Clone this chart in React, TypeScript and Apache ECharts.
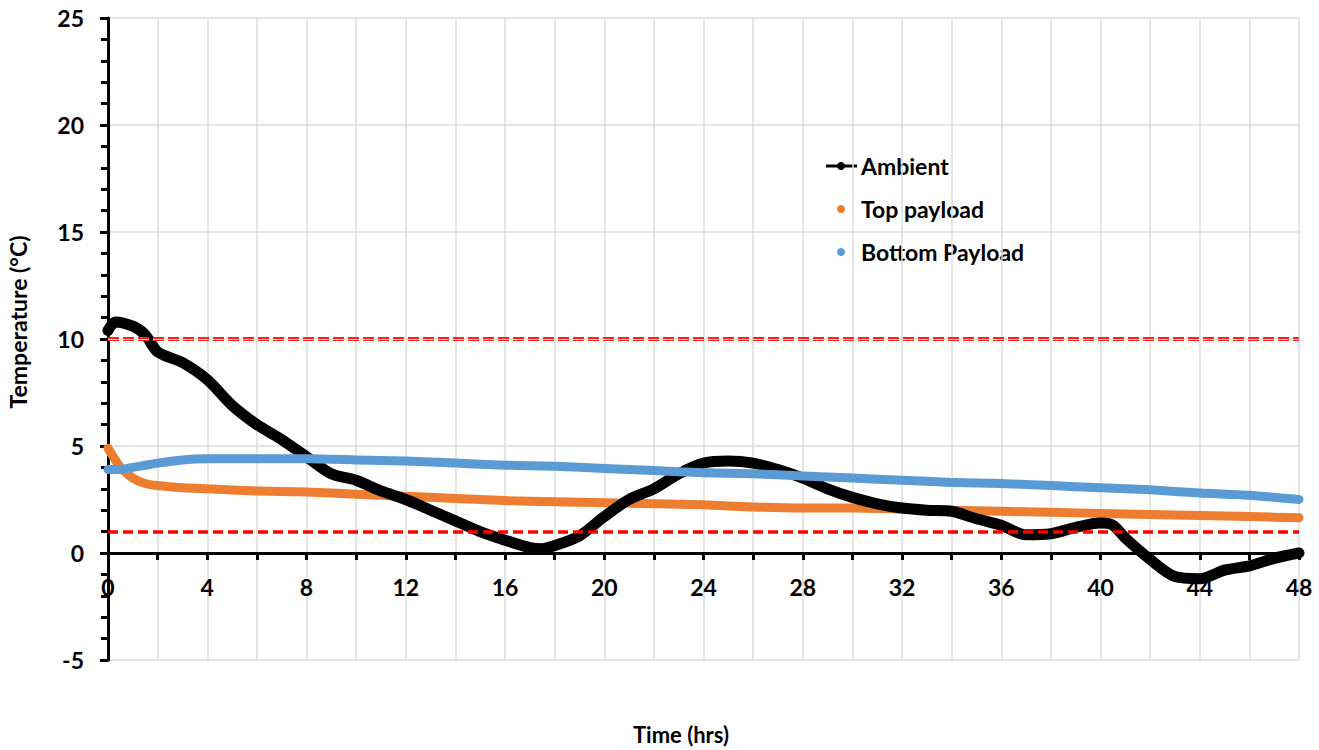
import React, { useEffect, useRef } from "react";
import * as echarts from "echarts";

const hours = [0, 0.3, 1, 1.5, 2, 3, 4, 5, 6, 7, 8, 9, 10, 11, 12, 13, 14, 15, 16, 17, 17.5, 18, 19, 20, 21, 22, 23, 24, 25, 26, 27, 28, 29, 30, 31, 32, 33, 34, 35, 36, 37, 38, 39, 40, 40.5, 41, 42, 43, 44, 45, 46, 47, 48];
const ambient = [10.4, 10.8, 10.6, 10.2, 9.4, 8.9, 8.1, 6.9, 6.0, 5.3, 4.5, 3.7, 3.4, 2.9, 2.5, 2.0, 1.5, 1.0, 0.6, 0.25, 0.2, 0.35, 0.8, 1.7, 2.5, 3.0, 3.7, 4.2, 4.3, 4.2, 3.9, 3.5, 3.0, 2.6, 2.3, 2.1, 2.0, 1.95, 1.6, 1.3, 0.85, 0.9, 1.2, 1.4, 1.3, 0.7, -0.3, -1.1, -1.2, -0.8, -0.6, -0.25, 0.0];

const payloadHours = [0, 0.5, 1, 1.5, 2, 3, 4, 6, 8, 10, 12, 14, 16, 18, 20, 22, 24, 26, 28, 30, 32, 34, 36, 38, 40, 42, 44, 46, 48];
const topPayload = [4.9, 4.0, 3.5, 3.25, 3.15, 3.05, 3.0, 2.9, 2.85, 2.75, 2.65, 2.55, 2.45, 2.4, 2.35, 2.3, 2.25, 2.15, 2.1, 2.1, 2.05, 2.0, 1.95, 1.9, 1.85, 1.8, 1.75, 1.7, 1.65];
const bottomPayload = [3.9, 3.9, 4.0, 4.1, 4.2, 4.35, 4.4, 4.4, 4.4, 4.35, 4.3, 4.2, 4.1, 4.05, 3.95, 3.85, 3.75, 3.7, 3.6, 3.5, 3.4, 3.3, 3.25, 3.15, 3.05, 2.95, 2.8, 2.7, 2.5];

const limits = [10, 1];
const seriesNames = ["Ambient", "Top payload", "Bottom Payload"];
const xTicks = { min: 0, max: 48, interval: 4 };
const yTicks = { min: -5, max: 25, interval: 5 };

const FONT = "Lato, 'Open Sans', sans-serif";
const FS = 23;
const GRID = { left: 108, right: 20, top: 18, bottom: 90 };
// plot height 642 for 30 units; y=0 sits 5 units above the bottom edge
const ZERO_OFFSET = -((750 - GRID.top - GRID.bottom) * (0 - yTicks.min)) / (yTicks.max - yTicks.min);

export default function App() {
  const ref = useRef<HTMLDivElement>(null);
  useEffect(() => {
    const chart = echarts.init(ref.current!, undefined, { renderer: "svg" });
    const pair = (xs: number[], ys: number[]) => xs.map((x, i) => [x, ys[i]]);
    const legendText = (i: number, y: number) => ({
      type: "text",
      x: 861,
      y,
      style: { text: seriesNames[i], fontFamily: FONT, fontWeight: "bold", fontSize: FS, fill: "#000", verticalAlign: "middle" },
    });
    chart.setOption({
      animation: false,
      grid: GRID,
      xAxis: {
        type: "value",
        position: "bottom",
        offset: ZERO_OFFSET,
        min: xTicks.min,
        max: xTicks.max,
        interval: xTicks.interval,
        axisLine: { onZero: false, lineStyle: { color: "#000", width: 3 } },
        axisTick: { show: true, length: 7, lineStyle: { color: "#000", width: 3 } },
        minorTick: { show: true, splitNumber: 2, length: 7, lineStyle: { color: "#000", width: 3 } },
        splitLine: { show: true, lineStyle: { color: "#dcdcdc", width: 1.5 } },
        minorSplitLine: { show: true, lineStyle: { color: "#dcdcdc", width: 1.5 } },
        axisLabel: { fontFamily: FONT, fontWeight: "bold", fontSize: FS, color: "#000", margin: 22 },
      },
      yAxis: {
        type: "value",
        min: yTicks.min,
        max: yTicks.max,
        interval: yTicks.interval,
        axisLine: { show: true, onZero: false, lineStyle: { color: "#000", width: 3 } },
        axisTick: { show: true, length: 8, lineStyle: { color: "#000", width: 3 } },
        minorTick: { show: true, splitNumber: 5, length: 7, lineStyle: { color: "#000", width: 3 } },
        splitLine: { show: true, lineStyle: { color: "#dcdcdc", width: 1.5 } },
        axisLabel: { fontFamily: FONT, fontWeight: "bold", fontSize: FS, color: "#000", margin: 24 },
      },
      series: [
        {
          name: seriesNames[1],
          type: "line",
          data: pair(payloadHours, topPayload),
          showSymbol: false,
          smooth: 0.2,
          lineStyle: { color: "#ED7D31", width: 9, cap: "round", join: "round" },
          z: 2,
        },
        {
          name: seriesNames[0],
          type: "line",
          data: pair(hours, ambient),
          showSymbol: false,
          smooth: 0.3,
          lineStyle: { color: "#000", width: 11, cap: "round", join: "round" },
          z: 3,
        },
        {
          name: seriesNames[2],
          type: "line",
          data: pair(payloadHours, bottomPayload),
          showSymbol: false,
          smooth: 0.2,
          lineStyle: { color: "#5B9BD5", width: 9, cap: "round", join: "round" },
          z: 4,
        },
        {
          name: "limits",
          type: "line",
          data: [],
          z: 6,
          markLine: {
            silent: true,
            symbol: "none",
            label: { show: false },
            data: [
              { yAxis: limits[0], lineStyle: { color: "#ff2020", width: 4, type: [11, 4] } },
              { yAxis: limits[0], lineStyle: { color: "#ffc8c8", width: 1.2, type: [11, 4] } },
              { yAxis: limits[1], lineStyle: { color: "#ff0000", width: 3.5, type: [10, 5] } },
            ],
          },
        },
      ],
      graphic: [
        {
          type: "text",
          x: 18,
          y: 322,
          rotation: Math.PI / 2,
          style: {
            text: "Temperature (°C)",
            fontFamily: FONT,
            fontWeight: "bold",
            fontSize: FS,
            fill: "#000",
            align: "center",
            verticalAlign: "middle",
          },
        },
        {
          type: "text",
          x: 681,
          y: 734,
          style: {
            text: "Time (hrs)",
            fontFamily: FONT,
            fontWeight: "bold",
            fontSize: 22,
            fill: "#000",
            align: "center",
            verticalAlign: "middle",
          },
        },
        { type: "line", shape: { x1: 826, y1: 166, x2: 857, y2: 166 }, style: { stroke: "#000", lineWidth: 3 } },
        { type: "circle", shape: { cx: 841, cy: 166, r: 4 }, style: { fill: "#000" } },
        { type: "circle", shape: { cx: 841, cy: 209, r: 4 }, style: { fill: "#ED7D31" } },
        { type: "circle", shape: { cx: 841, cy: 252, r: 4 }, style: { fill: "#5B9BD5" } },
        legendText(0, 166),
        legendText(1, 209),
        legendText(2, 252),
      ],
    });
    return () => chart.dispose();
  }, []);
  return <div ref={ref} style={{ width: 1319, height: 750, position: "absolute", left: 0, top: 0 }} />;
}
